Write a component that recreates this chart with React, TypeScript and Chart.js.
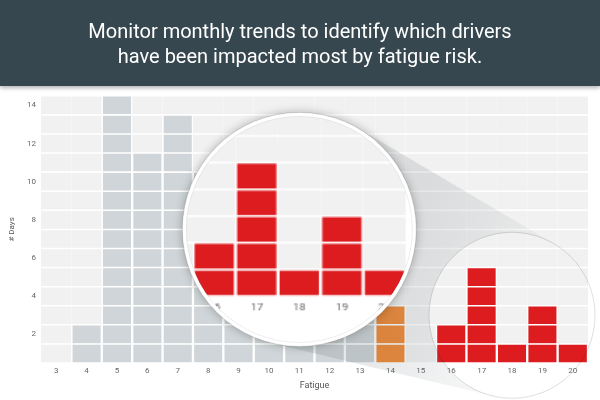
import React, { useEffect, useRef } from "react";
import { Chart, registerables } from "chart.js";

Chart.register(...registerables);

// ---- data ----
const categories = ["3", "4", "5", "6", "7", "8", "9", "10", "11", "12", "13", "14", "15", "16", "17", "18", "19", "20"];
const dayCounts = [0, 2, 14, 11, 13, 10, 9, 8, 6, 5, 4, 3, 0, 2, 5, 1, 3, 1];
const riskLevels = ["low", "low", "low", "low", "low", "low", "low", "low", "low", "low", "low", "medium", "medium", "high", "high", "high", "high", "high"];
const yTickLabels = [2, 4, 6, 8, 10, 12, 14];
const maxDays = 14;
const headline = ["Monitor monthly trends to identify which drivers", "have been impacted most by fatigue risk."];

const riskColors: Record<string, string> = {
  low: "#cfd5d8",
  medium: "#f08a38",
  high: "#dc1c1f",
};
const bandColor = "#f1f1f1";

const magnifierPlugin = {
  id: "magnifier",
  afterDraw(chart: any) {
    const { ctx, canvas } = chart;
    const xs = chart.scales.x;
    const ys = chart.scales.y;
    const copy = document.createElement("canvas");
    copy.width = canvas.width;
    copy.height = canvas.height;
    const cctx = copy.getContext("2d");
    if (!cctx) return;
    cctx.drawImage(canvas, 0, 0);

    // small (source) circle around categories 16-20
    const sx = xs.getPixelForValue(15);
    const sy = ys.getPixelForValue(2.5);
    const rs = 83;
    // big (magnified) circle
    const bx = xs.getPixelForValue(8);
    const by = ys.getPixelForValue(7);
    const rb = 117;
    const inner = 113;
    const k = 1.4;

    // cone between circles
    const dx = sx - bx;
    const dy = sy - by;
    const d = Math.hypot(dx, dy);
    const th = Math.atan2(dy, dx);
    const al = Math.acos((rb - rs) / d);
    ctx.save();
    ctx.beginPath();
    ctx.rect(0, 0, canvas.width, canvas.height);
    ctx.arc(sx, sy, rs, 0, Math.PI * 2);
    ctx.clip("evenodd");
    const grad = ctx.createLinearGradient(bx, by, sx, sy);
    grad.addColorStop(0.45, "rgba(80,95,100,0.15)");
    grad.addColorStop(1, "rgba(80,95,100,0.05)");
    ctx.fillStyle = grad;
    ctx.beginPath();
    ctx.moveTo(bx + rb * Math.cos(th + al), by + rb * Math.sin(th + al));
    ctx.lineTo(sx + rs * Math.cos(th + al), sy + rs * Math.sin(th + al));
    ctx.lineTo(sx + rs * Math.cos(th - al), sy + rs * Math.sin(th - al));
    ctx.lineTo(bx + rb * Math.cos(th - al), by + rb * Math.sin(th - al));
    ctx.closePath();
    ctx.fill();
    ctx.restore();

    // small circle outline
    ctx.save();
    ctx.beginPath();
    ctx.arc(sx, sy, rs, 0, Math.PI * 2);
    ctx.strokeStyle = "rgba(0,0,0,0.13)";
    ctx.lineWidth = 1;
    ctx.stroke();
    ctx.restore();

    // big circle with shadow
    ctx.save();
    ctx.shadowColor = "rgba(0,0,0,0.28)";
    ctx.shadowBlur = 10;
    ctx.beginPath();
    ctx.arc(bx, by, rb, 0, Math.PI * 2);
    ctx.fillStyle = "#ffffff";
    ctx.fill();
    ctx.restore();

    ctx.save();
    ctx.beginPath();
    ctx.arc(bx, by, inner, 0, Math.PI * 2);
    ctx.clip();
    ctx.fillStyle = "#ffffff";
    ctx.fillRect(bx - inner, by - inner, inner * 2, inner * 2);
    const sr = inner / k;
    ctx.drawImage(copy, sx - sr, sy - sr, sr * 2, sr * 2, bx - inner, by - inner, inner * 2, inner * 2);
    ctx.restore();

    ctx.save();
    ctx.beginPath();
    ctx.arc(bx, by, rb, 0, Math.PI * 2);
    ctx.strokeStyle = "rgba(0,0,0,0.12)";
    ctx.lineWidth = 1;
    ctx.stroke();
    ctx.beginPath();
    ctx.arc(bx, by, inner, 0, Math.PI * 2);
    ctx.strokeStyle = "rgba(0,0,0,0.07)";
    ctx.stroke();
    ctx.restore();
  },
};

export default function App() {
  const canvasRef = useRef<HTMLCanvasElement | null>(null);

  useEffect(() => {
    if (!canvasRef.current) return;
    const datasets = [];
    for (let row = 1; row <= maxDays; row++) {
      datasets.push({
        label: "row" + row,
        data: categories.map(() => 1),
        backgroundColor: (c: any) =>
          dayCounts[c.dataIndex] >= row ? riskColors[riskLevels[c.dataIndex]] : bandColor,
        borderColor: "#ffffff",
        borderWidth: (c: any) =>
          dayCounts[c.dataIndex] >= row
            ? { top: 1.1, bottom: 1.1, left: 1.5, right: 1.5 }
            : { top: 1.1, bottom: 1.1, left: 0, right: 0 },
        borderSkipped: false,
        barPercentage: 1,
        categoryPercentage: 1,
        stack: "days",
      });
    }

    const chart = new Chart(canvasRef.current, {
      type: "bar",
      data: { labels: categories, datasets },
      options: {
        responsive: false,
        animation: false,
        events: [],
        layout: { padding: { top: 5, right: 12, left: 0, bottom: 0 } },
        plugins: { legend: { display: false }, tooltip: { enabled: false } },
        scales: {
          x: {
            stacked: true,
            grid: { display: false, drawTicks: false },
            border: { display: false },
            ticks: {
              color: "#666",
              font: { family: "Roboto", size: 8 },
              padding: 3,
              maxRotation: 0,
              autoSkip: false,
            },
            title: {
              display: true,
              text: "Fatigue",
              color: "#555",
              font: { family: "Roboto", size: 9 },
              padding: { top: 0, bottom: 8.6 },
            },
            afterFit: (s: any) => {
              s.height = 37;
            },
          },
          y: {
            stacked: true,
            min: 0,
            max: maxDays,
            grid: { display: false, drawTicks: false },
            border: { display: false },
            afterBuildTicks: (s: any) => {
              s.ticks = yTickLabels.map((v) => ({ value: v - 0.5 }));
            },
            ticks: {
              color: "#666",
              font: { family: "Roboto", size: 8 },
              padding: 5,
              callback: (v: any) => String(Math.round(Number(v) + 0.5)),
            },
            title: {
              display: true,
              text: "# Days",
              color: "#555",
              font: { family: "Roboto", size: 8 },
              padding: { top: 7.2, bottom: 0 },
            },
            afterFit: (s: any) => {
              s.width = 41;
            },
          },
        },
      },
      plugins: [magnifierPlugin],
    } as any);

    return () => chart.destroy();
  }, []);

  return (
    <div style={{ position: "absolute", left: 0, top: 0, width: 600, height: 400, background: "#fff", overflow: "hidden" }}>
      <canvas ref={canvasRef} width={600} height={314} style={{ position: "absolute", left: 0, top: 86, width: 600, height: 314 }} />
      <div
        style={{
          position: "absolute",
          left: 0,
          top: 0,
          width: 600,
          height: 86,
          background: "#36474f",
          boxShadow: "0 2px 4px rgba(0,0,0,0.3)",
          color: "#ffffff",
          fontFamily: "Roboto, sans-serif",
          fontSize: 20,
          lineHeight: "25px",
          textAlign: "center",
          paddingTop: 19,
          boxSizing: "border-box",
          zIndex: 2,
        }}
      >
        {headline.map((l) => (
          <div key={l}>{l}</div>
        ))}
      </div>
    </div>
  );
}
